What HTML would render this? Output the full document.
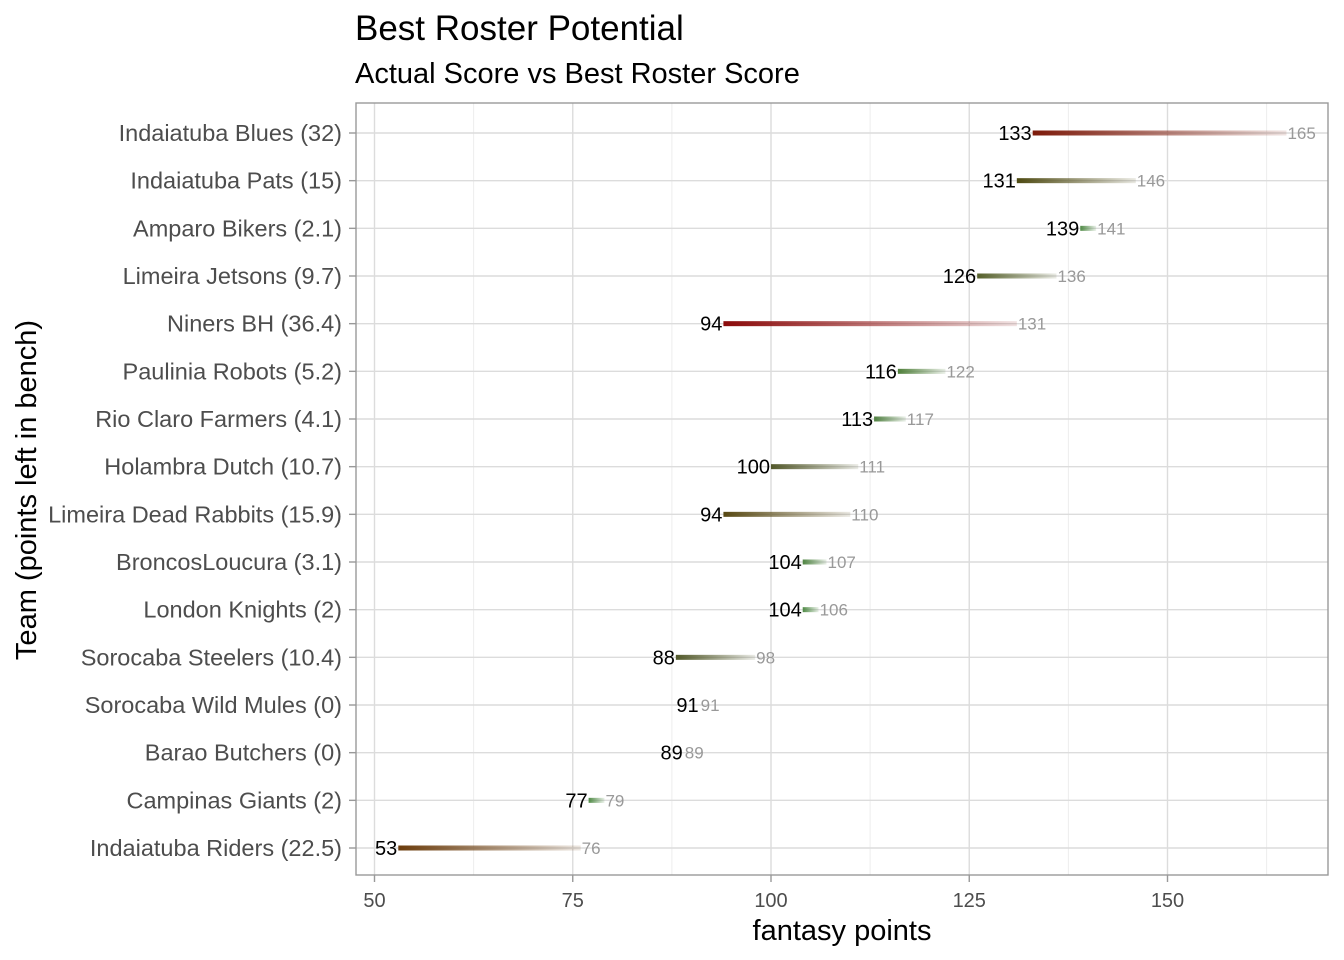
<!DOCTYPE html>
<html><head><meta charset="utf-8"><style>
html,body{margin:0;padding:0;background:#fff;}
svg{display:block;font-family:"Liberation Sans",Arial,sans-serif;}
</style></head><body>
<svg id="s" width="1344" height="960" viewBox="0 0 1344 960" xmlns="http://www.w3.org/2000/svg">
<rect width="1344" height="960" fill="#fff"/>
<text x="355" y="40" font-size="35" fill="#000">Best Roster Potential</text>
<text x="355" y="83" font-size="29" fill="#000">Actual Score vs Best Roster Score</text>
<g id="g"></g>
<text x="842" y="940" font-size="29" text-anchor="middle" fill="#000">fantasy points</text>
<text transform="translate(36,490) rotate(-90)" font-size="29" text-anchor="middle" fill="#000">Team (points left in bench)</text>
</svg>
<script>
const data=[
["Indaiatuba Blues (32)",133,165,"#7d1a0a"],
["Indaiatuba Pats (15)",131,146,"#4e4a12"],
["Amparo Bikers (2.1)",139,141,"#4f8a45"],
["Limeira Jetsons (9.7)",126,136,"#55602a"],
["Niners BH (36.4)",94,131,"#8b0a0a"],
["Paulinia Robots (5.2)",116,122,"#4f7f3a"],
["Rio Claro Farmers (4.1)",113,117,"#4f8040"],
["Holambra Dutch (10.7)",100,111,"#52582a"],
["Limeira Dead Rabbits (15.9)",94,110,"#574812"],
["BroncosLoucura (3.1)",104,107,"#4f8442"],
["London Knights (2)",104,106,"#4f8a45"],
["Sorocaba Steelers (10.4)",88,98,"#52592a"],
["Sorocaba Wild Mules (0)",91,91,"#4f8a45"],
["Barao Butchers (0)",89,89,"#4f8a45"],
["Campinas Giants (2)",77,79,"#4f8a45"],
["Indaiatuba Riders (22.5)",53,76,"#6b3c0c"]];
const X=v=>374.5+(v-50)*7.93;
const L=356,R=1328,T=103,B=875;
let h='<defs>';
data.forEach((d,i)=>{h+=`<linearGradient id="lg${i}" gradientUnits="userSpaceOnUse" x1="${X(d[1])}" x2="${X(d[2])+0.01}" y1="0" y2="0"><stop offset="0" stop-color="${d[3]}" stop-opacity="1"/><stop offset="1" stop-color="${d[3]}" stop-opacity="0.12"/></linearGradient>`;});
h+='</defs>';
[62.5,87.5,112.5,137.5,162.5].forEach(v=>h+=`<line x1="${X(v)}" x2="${X(v)}" y1="${T}" y2="${B}" stroke="#ededed" stroke-width="1"/>`);
[50,75,100,125,150].forEach(v=>{h+=`<line x1="${X(v)}" x2="${X(v)}" y1="${T}" y2="${B}" stroke="#dcdcdc" stroke-width="1.4"/>`;
h+=`<line x1="${X(v)}" x2="${X(v)}" y1="${B}" y2="${B+7}" stroke="#999" stroke-width="1.4"/>`;
h+=`<text x="${X(v)}" y="${B+32}" font-size="20" text-anchor="middle" fill="#4d4d4d">${v}</text>`;});
data.forEach((d,i)=>{const y=133+i*47.667;
h+=`<line x1="${L}" x2="${R}" y1="${y}" y2="${y}" stroke="#dcdcdc" stroke-width="1.4"/>`;
h+=`<line x1="${L-7}" x2="${L}" y1="${y}" y2="${y}" stroke="#999" stroke-width="1.4"/>`;
h+=`<text x="${L-14}" y="${y+8}" font-size="23.5" text-anchor="end" fill="#4d4d4d">${d[0]}</text>`;});
data.forEach((d,i)=>{const y=133+i*47.667;const a=X(d[1]),b=X(d[2]);
if(b>a)h+=`<rect x="${a}" y="${y-2.5}" width="${b-a}" height="5" fill="url(#lg${i})"/>`;
h+=`<text x="${a-1}" y="${y+7}" font-size="20" text-anchor="end" fill="#000">${d[1]}</text>`;
h+=`<text x="${b+1}" y="${y+6}" font-size="17" fill="#999">${d[2]}</text>`;});
h+=`<rect x="${L}" y="${T}" width="${R-L}" height="${B-T}" fill="none" stroke="#999" stroke-width="1.4"/>`;
document.getElementById('g').innerHTML=h;
</script>
</body></html>
